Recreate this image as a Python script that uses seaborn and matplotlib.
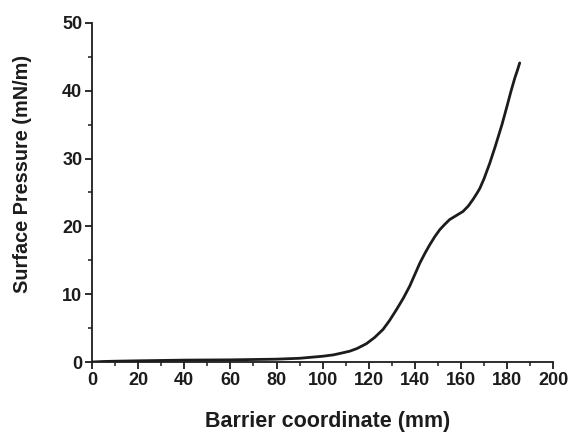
import matplotlib
matplotlib.use("Agg")
import matplotlib.pyplot as plt
import seaborn as sns
import pandas as pd
from matplotlib.ticker import MultipleLocator

barrier_mm = [0, 5, 10, 20, 40, 60, 80, 90, 95, 100, 104.6, 108, 111.8, 115, 119, 122.5,
              126.2, 129, 132, 135, 137.8, 140, 142.2, 144.5, 146.5, 148.7, 150.8, 153,
              155.1, 158, 160.9, 163.2, 165.3, 167, 168.2, 170, 172.5, 175, 177.8,
              179.9, 181.7, 183.4, 184.5, 185.5]
pressure = [0.0, 0.08, 0.12, 0.18, 0.28, 0.32, 0.42, 0.55, 0.7, 0.85, 1.05, 1.3, 1.6, 2.0,
            2.7, 3.6, 4.8, 6.1, 7.7, 9.4, 11.2, 12.9, 14.6, 16.1, 17.3, 18.5, 19.5, 20.3,
            21.0, 21.6, 22.2, 23.0, 24.0, 24.9, 25.6, 27.0, 29.3, 31.9, 35.0, 37.6, 39.9,
            41.9, 43.0, 44.1]

df = pd.DataFrame({"x": barrier_mm, "y": pressure})

sns.set_style("ticks")
plt.rcParams['font.family'] = ['Liberation Sans', 'DejaVu Sans']

fig = plt.figure(figsize=(5.72, 4.32), dpi=100)
ax = fig.add_axes([0.161, 0.162, 0.806, 0.785])
sns.lineplot(data=df, x="x", y="y", ax=ax, color="#1c1c1c", linewidth=2.0, sort=False)

ax.set_xlim(0, 200)
ax.set_ylim(0, 50)
ax.xaxis.set_major_locator(MultipleLocator(20))
ax.xaxis.set_minor_locator(MultipleLocator(10))
ax.yaxis.set_major_locator(MultipleLocator(10))
ax.yaxis.set_minor_locator(MultipleLocator(5))
sns.despine(ax=ax)
for s in ["left", "bottom"]:
    ax.spines[s].set_linewidth(1.3)
    ax.spines[s].set_color("#1c1c1c")
ax.tick_params(which="major", direction="out", length=5, width=1.3, color="#1c1c1c",
               labelsize=13, pad=2)
ax.tick_params(which="minor", direction="out", length=3, width=1.1, color="#1c1c1c")
for lab in ax.get_xticklabels() + ax.get_yticklabels():
    lab.set_fontweight("bold")
    lab.set_color("#1c1c1c")
ax.set_xlabel("Barrier coordinate (mm)", fontsize=15.5, fontweight="bold", color="#1c1c1c",
              va="center")
ax.set_ylabel("Surface Pressure (mN/m)", fontsize=14.3, fontweight="bold", color="#1c1c1c",
              va="center")
ax.xaxis.set_label_coords(0.51, -0.175)
ax.yaxis.set_label_coords(-0.152, 0.555)

fig.savefig("out.png", dpi=100)
